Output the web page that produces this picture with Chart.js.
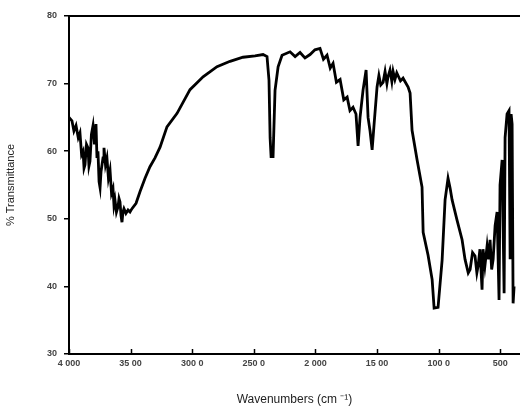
<!DOCTYPE html>
<html>
<head>
<meta charset="utf-8">
<script src="https://cdn.jsdelivr.net/npm/chart.js@4"></script>
<style>
  html, body { margin: 0; padding: 0; background: #fff; }
  #wrap { width: 520px; height: 411px; position: relative; }
</style>
</head>
<body>
<div id="wrap"><canvas id="c" width="520" height="411"></canvas></div>
<script>
// Wavenumbers (cm-1) and % transmittance
const wavenumbers = [4000,3976,3960,3943,3925,3911,3898,3886,3878,3870,3858,3846,3838,3830,3818,3805,3793,3781,3773,3765,3756,3748,3740,3732,3724,3716,3704,3692,3680,3667,3655,3643,3635,3627,3615,3602,3594,3586,3578,3570,3562,3554,3538,3521,3505,3489,3456,3424,3383,3343,3302,3261,3205,3123,3018,2912,2799,2693,2588,2490,2425,2393,2377,2368,2360,2344,2328,2303,2271,2206,2165,2125,2085,2044,2004,1963,1935,1906,1880,1857,1830,1800,1770,1743,1720,1695,1671,1654,1638,1614,1589,1573,1557,1540,1524,1500,1485,1470,1451,1435,1420,1411,1395,1380,1370,1355,1340,1330,1310,1289,1248,1232,1216,1175,1135,1126,1086,1053,1037,1005,972,948,924,907,891,851,810,786,760,745,725,705,690,680,665,648,640,625,607,595,583,570,558,542,526,510,502,485,469,461,445,429,420,412,404,396,388];
const transmittance = [65.0,64.5,63.0,63.8,62.0,62.7,59.5,60.0,57.5,58.0,61.0,60.5,57.8,58.5,62.5,63.8,61.0,64.0,59.0,60.0,55.5,54.6,57.0,58.0,59.0,60.5,58.0,59.0,56.0,57.2,53.8,54.5,52.0,52.8,51.0,51.8,53.0,52.5,50.5,49.5,51.0,51.5,50.8,51.3,51.0,51.5,52.3,54.0,56.0,57.7,59.0,60.6,63.6,65.6,69.1,71.0,72.5,73.3,73.9,74.1,74.3,74.0,70.5,62.0,59.2,59.2,69.0,72.5,74.2,74.7,74.0,74.6,73.8,74.3,75.0,75.2,73.6,74.2,72.3,73.0,70.2,70.6,67.6,68.0,66.0,66.5,65.5,60.8,65.0,69.0,72.0,65.0,63.0,60.2,64.0,69.5,71.2,69.8,70.2,71.8,70.0,71.0,72.0,70.3,71.8,70.6,71.6,71.2,70.4,70.8,69.5,68.6,63.1,58.7,54.7,48.0,44.6,41.0,36.8,36.9,43.9,52.8,56.0,54.5,52.8,49.8,46.9,44.0,42.0,42.5,45.0,44.5,42.0,43.0,45.5,39.5,45.5,43.0,46.0,44.0,46.9,42.5,44.0,49.0,51.0,38.0,55.0,58.7,39.0,62.0,65.5,66.0,44.0,65.5,64.0,37.5,40.0];

const xTickValues = [4000,3500,3000,2500,2000,1500,1000,500];
const xTickLabels = ["4 000","35 00","300 0","250 0","2 000","15 00","100 0","500"];
const yTickValues = [30,40,50,60,70,80];

const points = wavenumbers.map((w, i) => ({ x: w, y: transmittance[i] }));

const framePlugin = {
  id: 'frame',
  afterDraw(chart) {
    const { ctx, chartArea } = chart;
    const xs = chart.scales.x;
    ctx.save();
    ctx.strokeStyle = '#000';
    ctx.lineWidth = 2;
    ctx.beginPath();
    ctx.moveTo(chartArea.left - 1, chartArea.top);
    ctx.lineTo(chartArea.right, chartArea.top);
    ctx.stroke();
    ctx.lineWidth = 1.5;
    xTickValues.forEach(v => {
      const px = Math.round(xs.getPixelForValue(v)) + 0.5;
      ctx.beginPath();
      ctx.moveTo(px, chartArea.bottom);
      ctx.lineTo(px, chartArea.bottom - 5);
      ctx.stroke();
    });
    ctx.restore();
  }
};

new Chart(document.getElementById('c'), {
  type: 'line',
  data: {
    datasets: [{
      data: points,
      borderColor: '#000',
      borderWidth: 2.8,
      pointRadius: 0,
      tension: 0,
      fill: false
    }]
  },
  options: {
    responsive: false,
    animation: false,
    layout: { padding: { top: 16, right: 0, left: 0, bottom: 0 } },
    plugins: { legend: { display: false }, tooltip: { enabled: false } },
    scales: {
      x: {
        type: 'linear',
        reverse: true,
        min: 340,
        max: 4000,
        afterBuildTicks(scale) { scale.ticks = xTickValues.map(v => ({ value: v })); },
        afterFit(scale) { scale.height = 57; },
        border: { display: true, color: '#000', width: 2 },
        grid: { display: true, drawOnChartArea: false, drawTicks: false },
        ticks: {
          autoSkip: false,
          maxRotation: 0,
          padding: 4,
          color: '#444',
          font: { family: 'Liberation Sans, Arial, sans-serif', size: 9, weight: 'bold' },
          callback(value) {
            const i = xTickValues.indexOf(value);
            return i >= 0 ? xTickLabels[i] : '';
          }
        },
        title: {
          display: true,
          text: 'Wavenumbers (cm ⁻¹)',
          color: '#222',
          font: { family: 'Liberation Sans, Arial, sans-serif', size: 12 },
          padding: { top: 14, bottom: 4 }
        }
      },
      y: {
        type: 'linear',
        min: 30,
        max: 80,
        afterBuildTicks(scale) { scale.ticks = yTickValues.map(v => ({ value: v })); },
        afterFit(scale) { scale.width = 69; },
        border: { display: true, color: '#000', width: 2 },
        grid: { display: true, drawOnChartArea: false, drawTicks: true, tickLength: 5, color: '#000', lineWidth: 1.5 },
        ticks: {
          padding: 7,
          color: '#444',
          font: { family: 'Liberation Sans, Arial, sans-serif', size: 9, weight: 'bold' }
        },
        title: {
          display: true,
          text: '% Transmittance',
          color: '#222',
          font: { family: 'Liberation Sans, Arial, sans-serif', size: 11 },
          padding: { top: 4, bottom: 0 }
        }
      }
    }
  },
  plugins: [framePlugin]
});
</script>
</body>
</html>
